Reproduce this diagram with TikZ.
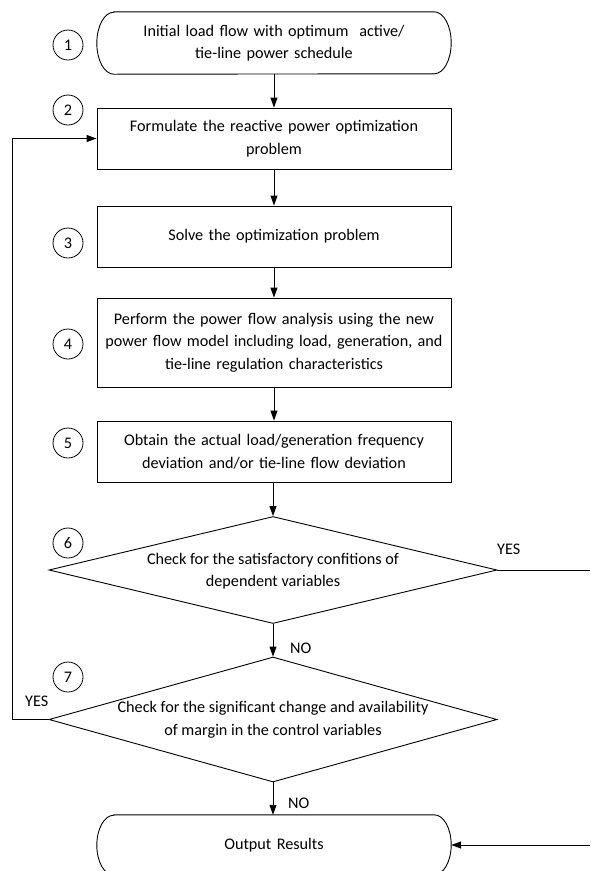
\documentclass[tikz,border=0pt]{standalone}
\usepackage{fontspec}
\setmainfont{Carlito}
\usetikzlibrary{shapes.geometric,arrows.meta}
\begin{document}
\begin{tikzpicture}[x=1pt,y=1pt,
  every node/.style={font=\fontsize{16.2}{22.5}\selectfont},
  procbox/.style={draw,line width=0.9pt,minimum width=354pt,inner sep=0pt,align=center,text width=350pt},
  termbox/.style={minimum width=354pt,minimum height=62pt,inner sep=0pt,align=center,text width=330pt},
  dia/.style={draw,diamond,line width=0.9pt,inner sep=0pt,minimum width=448pt},
  txt/.style={align=center,inner sep=0pt},
  num/.style={draw,circle,line width=0.8pt,minimum size=30pt,inner sep=0pt},
  lab/.style={inner sep=0pt},
  arr/.style={line width=0.9pt,-{Triangle[length=10pt,width=7pt]}},
  ln/.style={line width=0.9pt}]
\useasboundingbox (0,0) rectangle (590,-871);
% terminal 1
\node[termbox] (t1) at (274,-43) {Initial load flow with optimum\ \ active/\\tie-line power schedule};
\draw[ln] ([xshift=17pt]t1.north west) -- ([xshift=-17pt]t1.north east)
  arc[start angle=90,end angle=-90,x radius=17pt,y radius=31pt]
  -- ([xshift=17pt]t1.south west)
  arc[start angle=270,end angle=90,x radius=17pt,y radius=31pt] -- cycle;
% boxes
\node[procbox,minimum height=61pt] (b2) at (274,-138.5) {Formulate the reactive power optimization\\problem};
\node[procbox,minimum height=61pt] (b3) at (274,-236.5) {Solve the optimization problem};
\node[procbox,minimum height=89pt] (b4) at (274,-342.5) {Perform the power flow analysis using the new\\power flow model including load, generation, and\\tie-line regulation characteristics};
\node[procbox,minimum height=61pt] (b5) at (274,-451.5) {Obtain the actual load/generation frequency\\deviation and/or tie-line flow deviation};
% diamonds
\node[dia,minimum height=107pt] (d6) at (273,-570) {};
\node[txt] (d6t) at (273,-571) {Check for the satisfactory confitions of\\dependent variables};
\node[dia,minimum height=125pt] (d7) at (273,-719.5) {};
\node[txt] (d7t) at (273,-720) {Check for the significant change and availability\\of margin in the control variables};
% terminal output
\node[termbox,minimum height=60pt] (out) at (274,-845) {Output Results};
\draw[ln] ([xshift=17pt]out.north west) -- ([xshift=-17pt]out.north east)
  arc[start angle=90,end angle=-90,x radius=17pt,y radius=30pt]
  -- ([xshift=17pt]out.south west)
  arc[start angle=270,end angle=90,x radius=17pt,y radius=30pt] -- cycle;
% numbers
\node[num] (n1) at (68,-45) {1};
\node[num] (n2) at (68,-110) {2};
\node[num] (n3) at (68,-243) {3};
\node[num] (n4) at (68,-344) {4};
\node[num] (n5) at (68,-443) {5};
\node[num] (n6) at (68,-543) {6};
\node[num] (n7) at (68,-677) {7};
% connectors
\draw[arr] (t1.south) -- (b2.north);
\draw[arr] (b2.south) -- (b3.north);
\draw[arr] (b3.south) -- (b4.north);
\draw[arr] (b4.south) -- (b5.north);
\draw[arr] ([xshift=-1pt]b5.south) -- (d6.north);
\draw[arr] (d6.south) -- (d7.north);
\draw[arr] (d7.south) -- ([xshift=-1pt]out.north);
\coordinate (loopc) at (12,-719.5);
\draw[arr] (d7.west) -- (loopc) |- (b2.west);
\coordinate (yesr) at (590,-570);
\draw[ln] (d6.east) -- (yesr);
\coordinate (inr) at (590,-845);
\draw[arr] (inr) -- (out.east);
% labels
\node[lab,anchor=west] (no1) at (290,-648) {NO};
\node[lab,anchor=west] (no2) at (288,-803) {NO};
\node[lab,anchor=west] (yes1) at (497,-549) {YES};
\node[lab,anchor=west] (yes2) at (25,-701) {YES};
\end{tikzpicture}
\end{document}
